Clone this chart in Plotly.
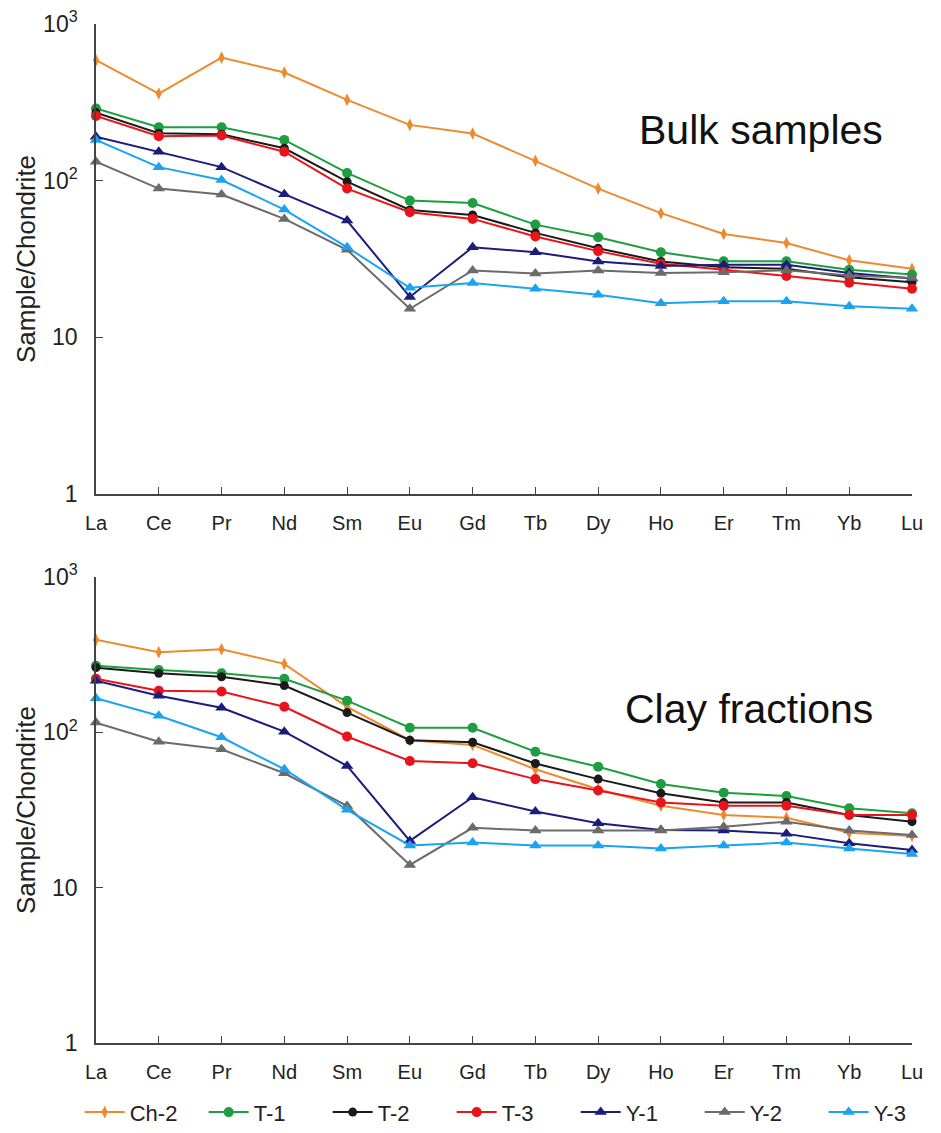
import plotly.graph_objects as go

elements = ["La", "Ce", "Pr", "Nd", "Sm", "Eu", "Gd", "Tb", "Dy", "Ho", "Er", "Tm", "Yb", "Lu"]
series_names = ["Ch-2", "T-1", "T-2", "T-3", "Y-1", "Y-2", "Y-3"]

# Bulk samples (chondrite-normalized)
bulk_ch2 = [587, 360, 610, 490, 328, 227, 200, 134, 89, 62, 45.7, 40, 31, 27.4]
bulk_t1 = [289, 219, 219, 182, 112, 74.6, 72, 52.4, 43.5, 34.9, 30.6, 30.6, 27, 25.2]
bulk_t2 = [272, 201, 198, 161, 98.6, 65, 60.4, 46.4, 37, 30.5, 28, 27.4, 24.2, 22.5]
bulk_t3 = [259, 192, 194, 153, 89, 62.9, 57, 44, 35.5, 29.5, 27, 24.6, 22.3, 20.4]
bulk_y1 = [191, 153, 122, 82, 55.6, 18.1, 37.6, 34.9, 30.5, 28.5, 29, 29, 25.7, 23.7]
bulk_y2 = [132, 89, 81.5, 57, 36.2, 15.2, 26.7, 25.5, 26.7, 25.7, 26, 26.8, 24.8, 23.9]
bulk_y3 = [182, 122, 101, 65.4, 37.6, 20.7, 22.2, 20.4, 18.7, 16.5, 17, 17, 15.8, 15.2]

# Clay fractions (chondrite-normalized)
clay_ch2 = [394, 328, 343, 276, 146, 89, 83, 57.9, 43, 33.7, 29.4, 28.2, 22.6, 21.5]
clay_t1 = [268, 252, 240, 221, 160, 107, 107, 75, 60, 46.5, 40.9, 38.9, 32.5, 30.1]
clay_t2 = [261, 240, 228, 200, 134, 89, 86.3, 63, 50, 40.5, 35.3, 35.3, 29.4, 26.6]
clay_t3 = [221, 185, 183, 146, 94, 65.4, 63.2, 50, 42.2, 35.3, 33.7, 33.7, 29.4, 29.4]
clay_y1 = [215, 172, 144, 101, 60.8, 20, 38.2, 30.9, 26, 23.5, 23.3, 22.2, 19.3, 17.5]
clay_y2 = [115.5, 87, 77.8, 54.5, 33.6, 14, 24.3, 23.3, 23.3, 23.3, 24.7, 26.6, 23.3, 21.8]
clay_y3 = [166, 128, 93, 57.9, 31.7, 18.7, 19.5, 18.7, 18.7, 17.9, 18.7, 19.5, 17.9, 16.5]

colors = ["#EE8A2E", "#1E9E40", "#1A1A1A", "#E8141C", "#1C1C7C", "#6B6B6B", "#1CA3F0"]
symbols = ["diamond-tall", "circle", "circle", "circle", "triangle-up", "triangle-up", "triangle-up"]
msizes = [9, 10, 9, 10, 11, 11, 11]

bulk = [bulk_ch2, bulk_t1, bulk_t2, bulk_t3, bulk_y1, bulk_y2, bulk_y3]
clay = [clay_ch2, clay_t1, clay_t2, clay_t3, clay_y1, clay_y2, clay_y3]

xs = list(range(len(elements)))
fig = go.Figure()
for i, name in enumerate(series_names):
    for k, (data, xa, ya) in enumerate([(bulk, "x", "y"), (clay, "x2", "y2")]):
        fig.add_trace(go.Scatter(
            x=xs, y=data[i], xaxis=xa, yaxis=ya, name=name,
            mode="lines+markers", showlegend=(k == 1), legendgroup=name,
            line=dict(color=colors[i], width=2),
            marker=dict(symbol=symbols[i], size=msizes[i], color=colors[i]),
            cliponaxis=False,
        ))

base_font = "Liberation Sans Narrow, Arial Narrow, Liberation Sans, Arial"
tick_font = dict(family=base_font, size=20, color="#222")
yvals = [1, 10, 100, 1000]
ytext = ["1", "10", "10<sup>2</sup>", "10<sup>3</sup>"]

axis_common_x = dict(
    range=[0, 13], tickmode="array", tickvals=xs, ticktext=elements,
    showline=True, linecolor="#444", linewidth=1.5, ticks="inside", ticklen=7,
    tickcolor="#444", showgrid=False, zeroline=False, tickfont=tick_font,
    ticklabelstandoff=10, automargin=False,
)
axis_common_y = dict(
    type="log", range=[0, 3], tickmode="array", tickvals=yvals, ticktext=ytext,
    showline=True, linecolor="#444", linewidth=1.5, ticks="inside", ticklen=7,
    tickcolor="#444", showgrid=False, zeroline=False,
    tickfont=dict(family="Liberation Sans, Arial", size=23, color="#222"),
    ticklabelstandoff=12, automargin=False,
    title=dict(text="Sample/Chondrite", font=dict(family="Liberation Sans, Arial", size=26, color="#222"), standoff=0),
)

fig.update_layout(
    width=941, height=1133,
    margin=dict(l=96, r=29, t=24, b=90, autoexpand=False),
    paper_bgcolor="white", plot_bgcolor="white",
    xaxis=dict(domain=[0, 1], anchor="y", **axis_common_x),
    yaxis=dict(domain=[0.5388, 1], anchor="x", **axis_common_y),
    xaxis2=dict(domain=[0, 1], anchor="y2", **axis_common_x),
    yaxis2=dict(domain=[0, 0.4573], anchor="x2", **axis_common_y),
    legend=dict(orientation="h", x=-0.02, xanchor="left", y=-0.068, yanchor="middle",
                entrywidth=69, entrywidthmode="pixels", itemwidth=40,
                font=dict(family=base_font, size=22, color="#222"),
                traceorder="normal"),
    annotations=[
        dict(text="Bulk samples", xref="x", yref="paper", x=10.6, y=(1043 - 130) / 1019,
             showarrow=False, xanchor="center", yanchor="middle",
             font=dict(family="Liberation Sans, Arial", size=41, color="#111")),
        dict(text="Clay fractions", xref="x2", yref="paper", x=10.4, y=(1043 - 709) / 1019,
             showarrow=False, xanchor="center", yanchor="middle",
             font=dict(family="Liberation Sans, Arial", size=41, color="#111")),
    ],
)

fig.write_html("out.html")
